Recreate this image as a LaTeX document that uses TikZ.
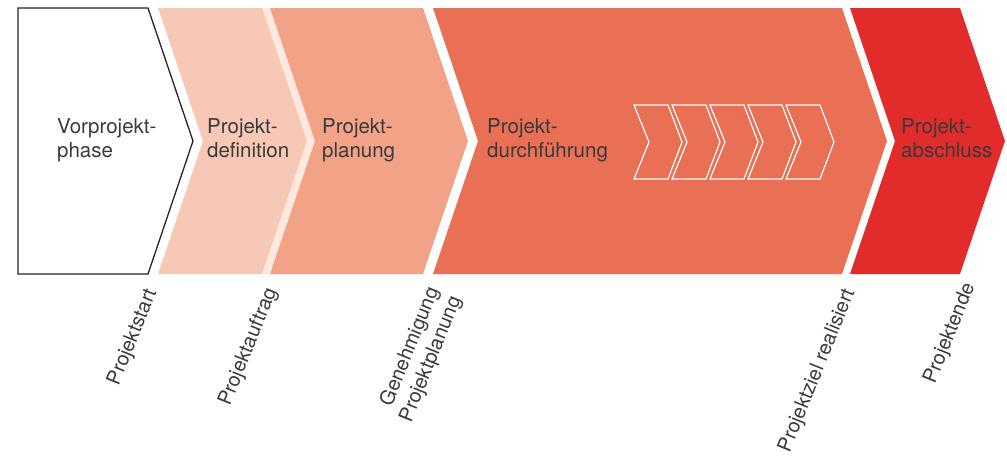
\documentclass[tikz,border=0pt]{standalone}
\usepackage{fontspec}
\setmainfont{TeX Gyre Heros}
\definecolor{textgray}{HTML}{3A3A3A}
\definecolor{defpink}{HTML}{F8C8B6}
\definecolor{palepink}{HTML}{FCE8DE}
\definecolor{plansalmon}{HTML}{F2A286}
\definecolor{durchorange}{HTML}{E97055}
\definecolor{absred}{HTML}{E22B2B}
\begin{document}
\begin{tikzpicture}[x=1pt, y=-1pt,
		phasetext/.style={anchor=north west, align=left, inner sep=0pt, text=textgray, font=\fontsize{20.5}{24}\selectfont},
		milestone/.style={anchor=east, rotate=68, align=right, inner sep=0pt, text=textgray, font=\fontsize{20}{24}\selectfont}]
		\useasboundingbox (0,0) rectangle (1007,456);
		
		%phases
		\draw[line width=1.3pt, draw=black!85, fill=white] (18,8) -- (148,8) -- (193,141) -- (148,274) -- (18,274) -- cycle;
		\fill[palepink] (262,8) -- (270,8) -- (315,141) -- (270,274) -- (262,274) -- (307,141) -- cycle;
		\fill[defpink] (158,8) -- (262,8) -- (307,141) -- (262,274) -- (158,274) -- (203,141) -- cycle;
		\fill[plansalmon] (270,8) -- (423,8) -- (468,141) -- (423,274) -- (270,274) -- (315,141) -- cycle;
		\fill[durchorange] (433,8) -- (842,8) -- (887,141) -- (842,274) -- (433,274) -- (478,141) -- cycle;
		\fill[absred] (850,8) -- (960,8) -- (1005,141) -- (960,274) -- (850,274) -- (895,141) -- cycle;
		
		%small chevrons
		\foreach \x in {634, 672, 710, 748, 786}{
			\draw[white, line width=1.2pt] (\x,105) -- (\x+34,105) -- (\x+48,142) -- (\x+34,179) -- (\x,179) -- (\x+15,142) -- cycle;
		}
		
		\node[phasetext] (vor) at (57,118) {Vorprojekt-\\phase};
		\node[phasetext] (def) at (207,118) {Projekt-\\definition};
		\node[phasetext] (plan) at (322,118) {Projekt-\\planung};
		\node[phasetext] (durch) at (487,118) {Projekt-\\durchführung};
		\node[phasetext] (abs) at (901,118) {Projekt-\\abschluss};
		
		%milestones
		\node[milestone] (start) at (152,290) {Projektstart};
		\node[milestone] (auftrag) at (272,289) {Projektauftrag};
		\node[milestone] (genehm) at (445,293) {Genehmigung\\Projektplanung};
		\node[milestone] (ziel) at (850,290) {Projektziel realisiert};
		\node[milestone] (ende) at (970,284) {Projektende};
\end{tikzpicture}
\end{document}
